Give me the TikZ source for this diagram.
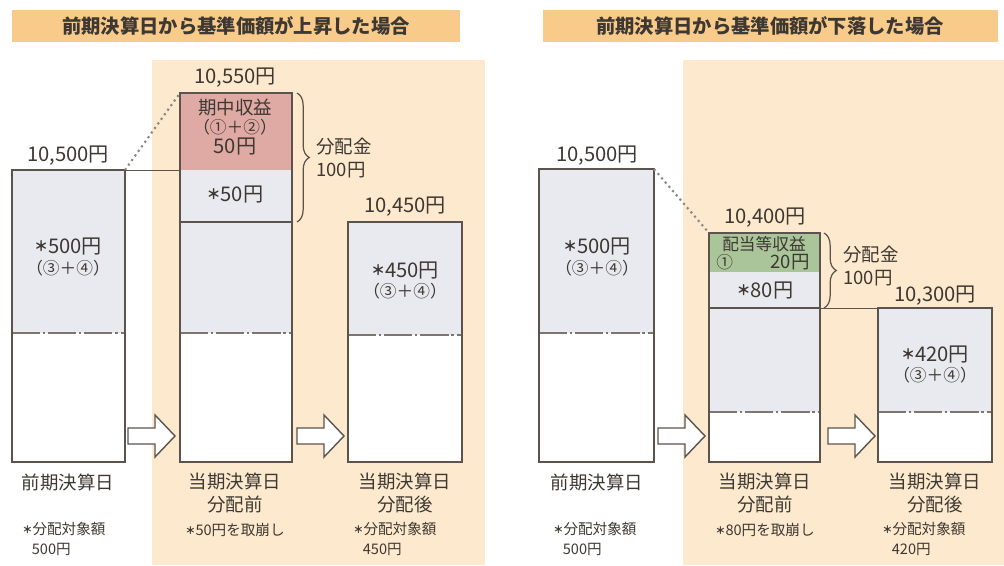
\documentclass[tikz,border=0pt]{standalone}
\usepackage{fontspec}
\setmainfont{Noto Sans CJK JP}
\usetikzlibrary{decorations.pathreplacing}
\definecolor{bandor}{RGB}{248,203,138}
\definecolor{bgor}{RGB}{253,234,206}
\definecolor{barfill}{RGB}{233,234,240}
\definecolor{gainred}{RGB}{224,170,164}
\definecolor{incgreen}{RGB}{170,197,153}
\definecolor{edge}{RGB}{92,84,76}
\definecolor{txt}{RGB}{62,56,50}
\newcommand\kome{\raisebox{0.1em}{\scalebox{0.7}{\bfseries ＊}}}
\begin{document}
\begin{tikzpicture}[x=0.02cm,y=-0.02cm,
    lbl/.style={text=txt,font=\fontsize{10.5}{13}\selectfont,inner sep=0pt,align=center},
    num/.style={text=txt,font=\fontsize{11.5}{13}\selectfont,inner sep=0pt,align=center},
    par/.style={text=txt,font=\fontsize{9.5}{13}\selectfont,inner sep=0pt,align=center},
    small/.style={text=txt,font=\fontsize{8.3}{11.3}\selectfont,inner sep=0pt,align=left},
    ttl/.style={text=txt,font=\fontsize{11}{13}\selectfont\bfseries,inner sep=0pt},
    barline/.style={draw=edge,line width=0.9pt},
    sepline/.style={edge!80,line width=0.8pt,dash pattern=on 16pt off 1.7pt on 1.2pt off 1.7pt},
    blockarrow/.style={draw=edge,fill=white,line width=0.8pt},
    bracket/.style={decorate,decoration={brace,amplitude=7pt},draw=edge,line width=0.7pt}]
    \useasboundingbox (0,0) rectangle (1004,565);
    % backgrounds and title bands
    \fill[bgor] (152,60) rectangle (485,565);
    \fill[bgor] (683,60) rectangle (1004,565);
    \fill[bandor] (12,10) rectangle (460,42);
    \fill[bandor] (543,10) rectangle (998,42);
    \node[ttl] (upttl) at (236,26) {前期決算日から基準価額が上昇した場合};
    \node[ttl] (dnttl) at (770,26) {前期決算日から基準価額が下落した場合};

    % ---- left: rise ----
    \fill[white] (12,170) rectangle (125,462);
    \fill[barfill] (12,170) rectangle (125,333);
    \draw[sepline] (12,333) -- (125,333);
    \draw[barline] (12,170) rectangle (125,462);
    \fill[white] (180,93) rectangle (292,462);
    \fill[gainred] (180,93) rectangle (292,170);
    \fill[barfill] (180,170) rectangle (292,333);
    \draw[sepline] (180,333) -- (292,333);
    \draw[edge,line width=1.2pt] (180,222) -- (292,222);
    \draw[barline] (180,93) rectangle (292,462);
    \fill[white] (348,222) rectangle (462,462);
    \fill[barfill] (348,222) rectangle (462,335);
    \draw[sepline] (348,335) -- (462,335);
    \draw[barline] (348,222) rectangle (462,462);
    \coordinate (uA) at (125,170);
    \coordinate (uBtop) at (180,93);
    \coordinate (uBmid) at (180,170);
    \draw[edge!70,line width=1.2pt,dotted] (uA) -- (uBtop);
    \draw[edge,line width=0.5pt] (uA) -- (uBmid);
    \draw[bracket] (297,93) -- (297,222);

    \node[num] (uval1) at (68,156) {10,500円};
    \node[num] (uamt1) at (68,247) {\kome{}500円};
    \node[par] (upar1) at (68,268) {（③＋④）};
    \node[num] (uval2) at (235,78) {10,550円};
    \node[lbl] (ugain) at (235,108) {期中収益};
    \node[par] (upar2) at (235,127) {（①＋②）};
    \node[num] (ugamt) at (235,147) {50円};
    \node[num] (uamt2) at (235,195) {\kome{}50円};
    \node[lbl,anchor=west,align=left] (udist) at (316,158) {分配金\\100円};
    \node[num] (uval3) at (405,207) {10,450円};
    \node[num] (uamt3) at (405,271) {\kome{}450円};
    \node[par] (upar3) at (405,291) {（③＋④）};
    \node[lbl] (uday1) at (68,482) {前期決算日};
    \node[lbl,anchor=north] (uday2) at (235,473) {当期決算日\\分配前};
    \node[lbl,anchor=north] (uday3) at (405,473) {当期決算日\\分配後};
    \node[small,anchor=north west] (unote1) at (22,522) {\kome{}分配対象額\\\hspace*{0.65em}500円};
    \node[small] (unote2) at (235,530) {\kome{}50円を取崩し};
    \node[small,anchor=north west] (unote3) at (353,522) {\kome{}分配対象額\\\hspace*{0.65em}450円};

    % ---- right: fall ----
    \fill[white] (539,169) rectangle (654,462);
    \fill[barfill] (539,169) rectangle (654,333);
    \draw[sepline] (539,333) -- (654,333);
    \draw[barline] (539,169) rectangle (654,462);
    \fill[white] (709,233) rectangle (820,462);
    \fill[incgreen] (709,233) rectangle (820,272);
    \fill[barfill] (709,272) rectangle (820,412);
    \draw[sepline] (709,412) -- (820,412);
    \draw[edge,line width=1.2pt] (709,308) -- (820,308);
    \draw[barline] (709,233) rectangle (820,462);
    \fill[white] (878,308) rectangle (992,462);
    \fill[barfill] (878,308) rectangle (992,412);
    \draw[sepline] (878,412) -- (992,412);
    \draw[barline] (878,308) rectangle (992,462);
    \coordinate (dA) at (654,169);
    \coordinate (dBtop) at (709,233);
    \coordinate (dBcut) at (820,308);
    \coordinate (dCtop) at (878,308);
    \draw[edge!70,line width=1.2pt,dotted] (dA) -- (dBtop);
    \draw[edge,line width=0.5pt] (dBcut) -- (dCtop);
    \draw[bracket] (824,233) -- (824,308);

    \node[num] (dval1) at (597,156) {10,500円};
    \node[num] (damt1) at (597,247) {\kome{}500円};
    \node[par] (dpar1) at (597,268) {（③＋④）};
    \node[num] (dval2) at (765,218) {10,400円};
    \node[par] (dinc) at (764,244) {配当等収益};
    \node[par,anchor=west] (dcirc) at (716,262) {①};
    \node[lbl,anchor=east] (diamt) at (810,262) {20円};
    \node[num] (damt2) at (765,291) {\kome{}80円};
    \node[lbl,anchor=west,align=left] (ddist) at (843,266) {分配金\\100円};
    \node[num] (dval3) at (935,296) {10,300円};
    \node[num] (damt3) at (935,355) {\kome{}420円};
    \node[par] (dpar3) at (935,375) {（③＋④）};
    \node[lbl] (dday1) at (597,482) {前期決算日};
    \node[lbl,anchor=north] (dday2) at (765,473) {当期決算日\\分配前};
    \node[lbl,anchor=north] (dday3) at (935,473) {当期決算日\\分配後};
    \node[small,anchor=north west] (dnote1) at (553,522) {\kome{}分配対象額\\\hspace*{0.65em}500円};
    \node[small] (dnote2) at (765,530) {\kome{}80円を取崩し};
    \node[small,anchor=north west] (dnote3) at (882,522) {\kome{}分配対象額\\\hspace*{0.65em}420円};

    % block arrows between the bars
    \foreach \ax in {128,297,658,828}
        \draw[blockarrow] (\ax,428) -- ++(27,0) -- ++(0,-13) -- ++(20,21)
            -- ++(-20,21) -- ++(0,-13) -- ++(-27,0) -- cycle;
\end{tikzpicture}
\end{document}
